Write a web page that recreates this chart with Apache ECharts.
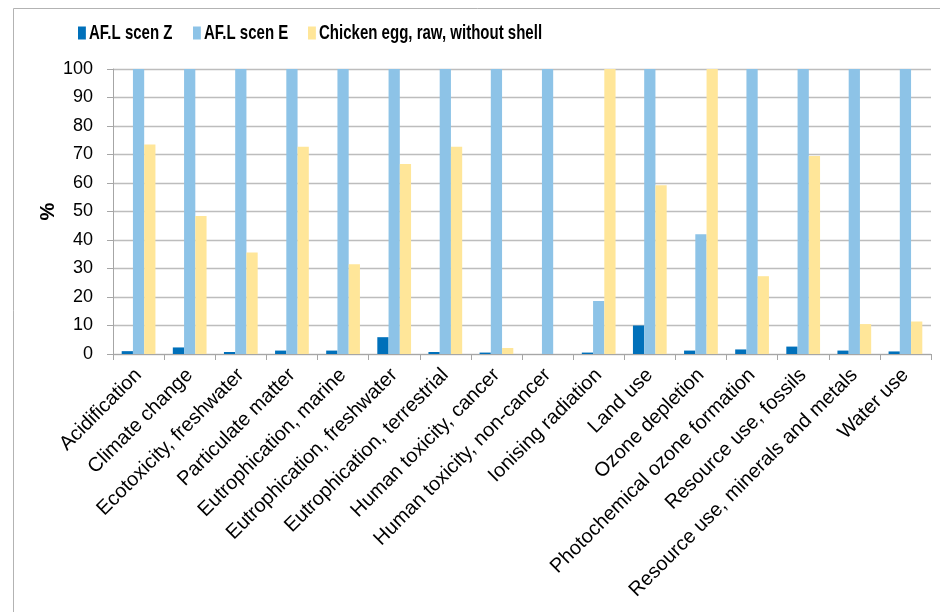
<!DOCTYPE html>
<html>
<head>
<meta charset="utf-8">
<script src="https://cdn.jsdelivr.net/npm/echarts@6/dist/echarts.min.js"></script>
<style>
  html, body { margin: 0; padding: 0; background: #fff; }
  #chart { width: 940px; height: 612px; }
</style>
</head>
<body>
<div id="chart"></div>
<script>
// Impact categories (x axis)
const categories = [
  'Acidification',
  'Climate change',
  'Ecotoxicity, freshwater',
  'Particulate matter',
  'Eutrophication, marine',
  'Eutrophication, freshwater',
  'Eutrophication, terrestrial',
  'Human toxicity, cancer',
  'Human toxicity, non-cancer',
  'Ionising radiation',
  'Land use',
  'Ozone depletion',
  'Photochemical ozone formation',
  'Resource use, fossils',
  'Resource use, minerals and metals',
  'Water use'
];

// Series names
const seriesNames = ['AF.L scen Z', 'AF.L scen E', 'Chicken egg, raw, without shell'];

// Relative impact, % of the highest of the three products
const scenZ = [1.0, 2.3, 0.7, 1.2, 1.2, 5.9, 0.7, 0.5, 0, 0.5, 10.0, 1.2, 1.6, 2.6, 1.2, 0.9];
const scenE = [100, 100, 100, 100, 100, 100, 100, 100, 100, 18.6, 100, 42.0, 100, 100, 100, 100];
const egg   = [73.5, 48.4, 35.6, 72.7, 31.5, 66.7, 72.7, 2.1, 0, 100, 59.2, 100, 27.3, 69.5, 10.5, 11.4];

// Y axis ticks
const yTicks = { min: 0, max: 100, interval: 10 };

const colors = ['#0070BA', '#8DC3E7', '#FFE699'];
const FONT = "'Liberation Sans', Arial, sans-serif";

const values = [scenZ, scenE, egg];

// Condensed legend row: swatch + bold label per series, squeezed horizontally
const legendSqueeze = 0.715;
const legendSwatchX = [0, 160.8, 321.7];
const legendTextX = [15.4, 176.2, 337.1];
const legendChildren = [];
seriesNames.forEach((name, i) => {
  legendChildren.push({
    type: 'rect',
    shape: { x: legendSwatchX[i], y: -6.5, width: 11, height: 13 },
    style: { fill: colors[i] }
  });
  legendChildren.push({
    type: 'text',
    x: legendTextX[i],
    y: 0,
    style: {
      text: name,
      font: "bold 21px 'Liberation Sans', Arial, sans-serif",
      fill: '#000',
      textVerticalAlign: 'middle',
      verticalAlign: 'middle'
    }
  });
});

const chart = echarts.init(document.getElementById('chart'), null, { renderer: 'canvas' });

chart.setOption({
  animation: false,
  backgroundColor: '#ffffff',
  color: colors,
  graphic: [
    {
      type: 'rect',
      shape: { x: 13.5, y: 8.5, width: 1000, height: 1000 },
      style: { fill: 'none', stroke: '#b3b3b3', lineWidth: 1 },
      silent: true,
      z: -1
    },
    {
      type: 'group',
      x: 78,
      y: 33,
      scaleX: legendSqueeze,
      scaleY: 1,
      silent: true,
      children: legendChildren
    }
  ],
  grid: { left: 113, right: 9, top: 69, bottom: 258, containLabel: false },
  xAxis: {
    type: 'category',
    data: categories,
    axisLine: { lineStyle: { color: '#a6a6a6', width: 1 } },
    axisTick: { show: true, length: 6, lineStyle: { color: '#a6a6a6' } },
    axisLabel: {
      rotate: 45,
      interval: 0,
      margin: 18,
      fontFamily: FONT,
      fontSize: 20,
      color: '#000'
    }
  },
  yAxis: {
    type: 'value',
    min: yTicks.min,
    max: yTicks.max,
    interval: yTicks.interval,
    name: '%',
    nameLocation: 'middle',
    nameGap: 55,
    nameRotate: 90,
    nameMoveOverlap: false,
    nameTextStyle: { fontFamily: FONT, fontWeight: 'bold', fontSize: 20, color: '#000' },
    axisLine: { show: true, lineStyle: { color: '#a6a6a6', width: 1 } },
    axisTick: { show: true, length: 6, lineStyle: { color: '#a6a6a6' } },
    axisLabel: { margin: 20, fontFamily: FONT, fontSize: 18, color: '#000' },
    splitLine: { show: true, lineStyle: { color: '#bdbdbd', width: 1.3 } }
  },
  series: seriesNames.map((name, i) => ({
    name: name,
    type: 'bar',
    data: values[i],
    barWidth: '22%',
    barGap: '0%',
    itemStyle: { color: colors[i] }
  }))
});
</script>
</body>
</html>
